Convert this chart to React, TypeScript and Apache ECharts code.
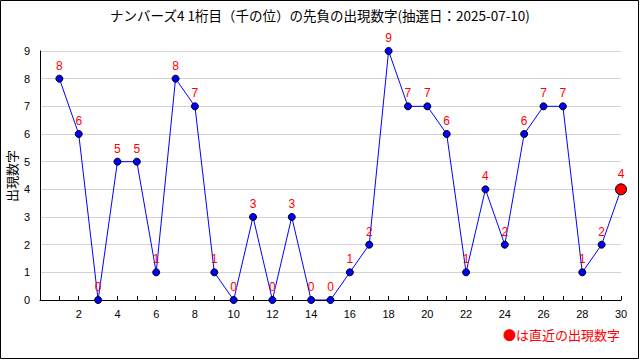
import React, { useEffect, useRef } from "react";
import * as echarts from "echarts";

const titleText = "ナンバーズ4 1桁目（千の位）の先負の出現数字(抽選日：2025-07-10)";
const yAxisName = "出現数字";
const legendText = "●は直近の出現数字";
const draws = [1,2,3,4,5,6,7,8,9,10,11,12,13,14,15,16,17,18,19,20,21,22,23,24,25,26,27,28,29,30];
const digits = [8,6,0,5,5,1,8,7,1,0,3,0,3,0,0,1,2,9,7,7,6,1,4,2,6,7,7,1,2,4];

export default function App() {
  const ref = useRef<HTMLDivElement>(null);
  useEffect(() => {
    const chart = echarts.init(ref.current!, null, { renderer: "svg" });
    const last = draws.length - 1;
    const data = draws.map((d, i) => {
      const item: any = { value: [d, digits[i]] };
      if (i === last) {
        item.symbolSize = 11;
        item.itemStyle = { color: "#ff0000", borderColor: "#000", borderWidth: 1 };
      }
      return item;
    });
    chart.setOption({
      animation: false,
      backgroundColor: "#fff",
      title: {
        text: titleText,
        left: "center",
        top: 3,
        textStyle: { fontSize: 13.5, fontWeight: "normal", color: "#000", fontFamily: "Noto Sans CJK JP" },
      },
      grid: { left: 40, right: 19, top: 51, bottom: 60, containLabel: false, outerBoundsMode: "none" },
      xAxis: {
        type: "value",
        min: 0,
        max: 30,
        interval: 2,
        axisLine: { lineStyle: { color: "#000" } },
        axisTick: { show: true, inside: true, length: 4, lineStyle: { color: "#000" } },
        minorTick: { show: true, splitNumber: 2, length: 4, lineStyle: { color: "#000" } },
        axisLabel: {
          color: "#000",
          fontSize: 11,
          margin: 8,
          formatter: (v: number) => (v === 0 ? "" : String(v)),
        },
        splitLine: { show: false },
      },
      yAxis: {
        type: "value",
        min: 0,
        max: 9,
        interval: 1,
        axisLine: { show: true, lineStyle: { color: "#000" } },
        axisTick: { show: false },
        axisLabel: { color: "#000", fontSize: 11, margin: 10 },
        splitLine: { show: true, lineStyle: { color: "#d3d3d3" } },
      },
      series: [
        {
          type: "line",
          data,
          symbol: "circle",
          symbolSize: 7,
          lineStyle: { color: "#0000ff", width: 1 },
          itemStyle: { color: "#0000ff", borderColor: "#000", borderWidth: 1 },
          label: {
            show: true,
            position: "top",
            distance: 3,
            color: "#ff0000",
            fontSize: 12,
            formatter: (p: any) => String(p.value[1]),
          },
        },
      ],
      graphic: [
        {
          type: "rect",
          shape: { x: 0.5, y: 0.5, width: 638, height: 358 },
          style: { fill: "none", stroke: "#000", lineWidth: 1 },
          silent: true,
        },
        {
          type: "text",
          x: 11,
          y: 176,
          rotation: Math.PI / 2,
          style: {
            text: yAxisName,
            fill: "#000",
            fontSize: 13,
            fontFamily: "Noto Sans CJK JP",
            align: "center",
            verticalAlign: "middle",
          },
        },
        {
          type: "text",
          right: 20,
          top: 328,
          style: { text: legendText, fill: "#ff0000", fontSize: 13, fontFamily: "Noto Sans CJK JP" },
        },
      ],
    });
    return () => chart.dispose();
  }, []);
  return <div ref={ref} style={{ width: 640, height: 360, position: "fixed", left: 0, top: 0 }} />;
}
